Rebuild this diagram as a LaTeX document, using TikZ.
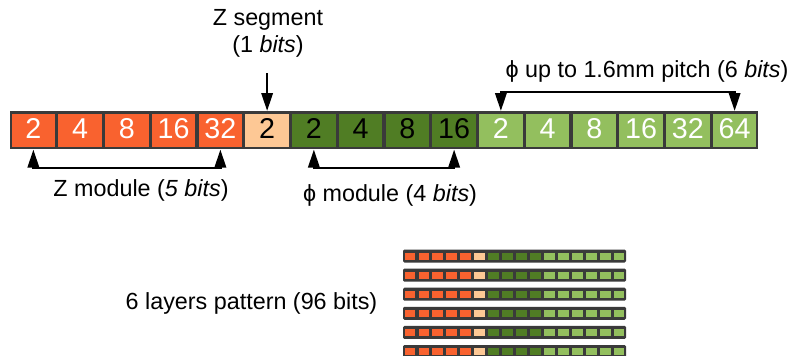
\documentclass[tikz,border=0pt]{standalone}
\usepackage{fontspec}
\setmainfont{Liberation Sans}
\usetikzlibrary{arrows.meta}
\definecolor{zor}{HTML}{F9622F}
\definecolor{zseg}{HTML}{FDC895}
\definecolor{pdark}{HTML}{507D24}
\definecolor{plight}{HTML}{93BF5E}
\definecolor{barc}{HTML}{3A3A3A}
\begin{document}
\begin{tikzpicture}[x=0.75pt,y=-0.75pt,
  cellbox/.style={minimum width=32.6pt,minimum height=24.75pt,inner sep=0pt,
    font=\fontsize{21.5}{24}\selectfont},
  lab/.style={font=\fontsize{17.5}{19}\selectfont,inner sep=0pt,align=center},
  brk/.style={line width=1.8pt,{Triangle[length=13.5pt,width=8.5pt]}-{Triangle[length=13.5pt,width=8.5pt]}},
  onearrow/.style={line width=1.8pt,-{Triangle[length=13.5pt,width=8.5pt]}}]
\useasboundingbox (0,0) rectangle (795,355);
% main bar
\node[fill=barc,minimum width=561pt,minimum height=28.5pt,inner sep=0pt,anchor=north west] (bar) at (10,111) {};
\foreach \i/\t/\c/\tc in {1/2/zor/white,2/4/zor/white,3/8/zor/white,4/16/zor/white,5/32/zor/white,
  6/2/zseg/black,7/2/pdark/black,8/4/pdark/black,9/8/pdark/black,10/16/pdark/black,
  11/2/plight/white,12/4/plight/white,13/8/plight/white,14/16/plight/white,15/32/plight/white,16/64/plight/white}
  \node[cellbox,fill=\c] (c\i) at ({10+46.75*(\i-0.5)},130) {\raisebox{2.2pt}{\textcolor{\tc}{\t}}};
% helper levels
\coordinate (lowline) at (0,168);
\coordinate (highline) at (0,92);
\coordinate (segtop) at (0,73);
% brackets
\draw[brk] (c1 |- bar.south) -- (c1 |- lowline) -- (c5 |- lowline) -- (c5 |- bar.south);
\draw[brk] (c7 |- bar.south) -- (c7 |- lowline) -- (c10 |- lowline) -- (c10 |- bar.south);
\draw[brk] (c11 |- bar.north) -- (c11 |- highline) -- (c16 |- highline) -- (c16 |- bar.north);
\draw[onearrow] (c6 |- segtop) -- (c6 |- bar.north);
% labels
\node[lab] (zseglab) at (268,33.5) {Z segment\\[1pt](1 \textit{bits})};
\node[lab] (zmodlab) at (141,190) {Z module (\textit{5 bits})};
\node[lab] (pmodlab) at (390,195) {ϕ module (4 \textit{bits})};
\node[lab] (ppitchlab) at (647,71) {ϕ up to 1.6mm pitch (6 \textit{bits})};
\node[lab] (layerlab) at (251.5,303) {6 layers pattern (96 bits)};
% 6 layers pattern
\foreach \k in {0,...,5}{
  \pgfmathsetmacro{\yt}{249.5+19.1*\k}
  \fill[barc,rounded corners=1pt] (403,\yt) rectangle (626,\yt+13);
  \foreach \j/\c in {1/zor,2/zor,3/zor,4/zor,5/zor,6/zseg,7/pdark,8/pdark,9/pdark,10/pdark,
    11/plight,12/plight,13/plight,14/plight,15/plight,16/plight}
    \fill[\c] ({403+13.94*(\j-0.5)-5.4},\yt+3) rectangle ({403+13.94*(\j-0.5)+5.4},\yt+10);
}
\end{tikzpicture}
\end{document}
